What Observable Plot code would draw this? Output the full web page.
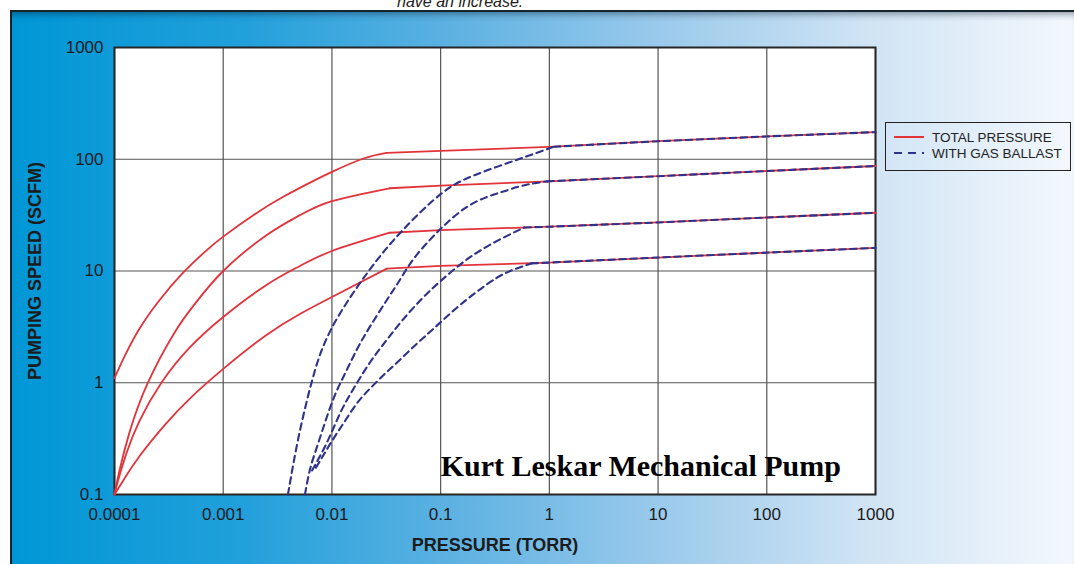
<!DOCTYPE html>
<html>
<head>
<meta charset="utf-8">
<script src="https://cdn.jsdelivr.net/npm/d3@7"></script>
<script src="https://cdn.jsdelivr.net/npm/@observablehq/plot@0.6"></script>
<style>
  html, body { margin: 0; padding: 0; width: 1074px; height: 564px; overflow: hidden; background: #fff; }
  #wrap { position: relative; width: 1074px; height: 564px; overflow: hidden; }
  #topnote { position: absolute; left: 397px; top: -7px; font: italic 16px "Liberation Sans", Arial, sans-serif; color: #222; white-space: nowrap; }
  #panel { position: absolute; left: 10px; top: 10px; right: 0; bottom: 0;
    border-left: 2px solid #16242c; border-top: 2px solid #16242c;
    box-shadow: inset 0 7px 7px -5px rgba(0,20,40,0.45);
    background: linear-gradient(to right, #0097d6 0%, #22a0db 22%, #5fb2e2 42%, #9dcbec 62%, #cfe3f4 80%, #f3f8fd 100%); }
  #chart { position: absolute; left: 0; top: 0; }
  #legend { position: absolute; left: 885px; top: 122px; width: 186px; height: 49px; border: 1px solid #222; box-sizing: border-box;
    font: 13.5px "Liberation Sans", Arial, sans-serif; color: #222; }
  #legend .row { position: absolute; left: 8px; height: 16px; display: flex; align-items: center; white-space: nowrap; }
  #legend svg { margin-right: 8px; }
</style>
</head>
<body>
<div id="wrap">
  <div id="topnote">have an increase.</div>
  <div id="panel"></div>
  <div id="chart"></div>
  <div id="legend"></div>
</div>
<script>
// ---- axis ticks ----
const xTicks = [1e-4, 1e-3, 1e-2, 0.1, 1, 10, 100, 1000];
const xTickLabels = ["0.0001", "0.001", "0.01", "0.1", "1", "10", "100", "1000"];
const yTicks = [0.1, 1, 10, 100, 1000];
const yTickLabels = ["0.1", "1", "10", "100", "1000"];
const xTitle = "PRESSURE (TORR)";
const yTitle = "PUMPING SPEED (SCFM)";
const seriesNames = ["TOTAL PRESSURE", "WITH GAS BALLAST"];
const annotationText = ["Kurt Leskar Mechanical Pump"];
const annotationAt = [0.1, 0.18];

// ---- total pressure curves [pressure (torr), speed (scfm)] ----
const total1 = [[0.0001,1.1],[0.000124,1.73],[0.000169,3.03],[0.000259,5.48],[0.00043,9.7],[0.00067,14.7],[0.001,20.3],[0.00192,31.9],
                [0.00363,46.6],[0.00684,64.4],[0.01,77.1],[0.0192,101],[0.032,114],
                [0.1,119],[1,129],[10,145],[100,160],[1000,175]];
const total2 = [[0.0001,0.1],[0.000111,0.163],[0.000137,0.356],[0.000201,0.98],[0.000355,2.79],[0.000542,5],[0.001,10],[0.0025,20.9],
                [0.00508,31.6],[0.01,42.2],[0.034,55],
                [0.1,58],[1,63.5],[10,70.5],[100,78.5],[1000,87]];
const total3 = [[0.0001,0.1],[0.000109,0.138],[0.000129,0.235],[0.000169,0.452],[0.00027,1],[0.000488,2.05],[0.001,3.88],[0.0025,7.5],
                [0.00508,11.1],[0.01,15.1],[0.034,22],
                [0.1,23.2],[1,24.9],[10,27.2],[100,30.1],[1000,33.2]];
const total4 = [[0.0001,0.1],[0.000124,0.14],[0.000169,0.219],[0.000288,0.416],[0.000488,0.715],[0.001,1.33],[0.0025,2.68],[0.00508,4.13],
                [0.01,5.86],[0.032,10.5],
                [0.1,11.1],[1,11.9],[10,13.2],[100,14.6],[1000,16.1]];
const kneeAt = [0.032, 0.034, 0.034, 0.032];

// ---- gas ballast curves [pressure (torr), speed (scfm)] ----
const ballast1 = [[0.00394,0.1],[0.00488,0.31],[0.00649,1],[0.0099,3.05],[0.0218,10],[0.0448,23.2],[0.1,48.7],[0.205,72],[0.52,100],
                  [1.1,129.5],[10,145],[100,160],[1000,175]];
const ballast2 = [[0.00565,0.1],[0.00628,0.167],[0.00745,0.285],[0.01,0.663],[0.0129,1.155],[0.0169,1.97],[0.0223,3.16],[0.032,5.5],
                  [0.0421,8.3],[0.0553,12.5],[0.0793,18.9],[0.1135,26.8],[0.1734,37.3],[0.264,45.8],[0.386,51.8],[0.59,58.6],[0.96,63.4],
                  [10,70.5],[100,78.5],[1000,87]];
const ballast3 = [[0.00656,0.164],[0.00899,0.291],[0.01183,0.528],[0.0156,0.866],[0.0223,1.51],[0.032,2.42],[0.0448,3.65],[0.0684,5.74],
                  [0.1,8.14],[0.149,11.3],[0.228,15.1],[0.371,19.7],[0.59,24.5],[1,24.9],[10,27.2],[100,30.1],[1000,33.2]];
const ballast4 = [[0.00713,0.174],[0.0102,0.31],[0.0129,0.44],[0.0169,0.65],[0.0223,0.883],[0.0294,1.155],[0.0378,1.45],[0.0603,2.23],
                  [0.0918,3.23],[0.14,4.67],[0.214,6.5],[0.327,8.66],[0.458,10.2],[0.684,11.7],[1,11.9],[10,13.2],[100,14.6],[1000,16.1]];
const joinAt = [1.1, 0.96, 0.59, 0.684];

const RED = "#e2333b";
const BLUE = "#2f3289";
const FONT = "'Liberation Sans', Arial, Helvetica, sans-serif";

// build tables: each curve split at its knee / junction into a curved and a straight part
function split(curves, cut) {
  const bend = [], straight = [];
  curves.forEach((c, i) => c.forEach(([x, y]) => {
    if (x <= cut[i]) bend.push({x, y, s: i});
    if (x >= cut[i]) straight.push({x, y, s: i});
  }));
  return [bend, straight];
}
const [rising, flat] = split([total1, total2, total3, total4], kneeAt);
const [bRising, bFlat] = split([ballast1, ballast2, ballast3, ballast4], joinAt);

const xLab = new Map(xTicks.map((t, i) => [t, xTickLabels[i]]));
const yLab = new Map(yTicks.map((t, i) => [t, yTickLabels[i]]));

const chart = Plot.plot({
  width: 1074,
  height: 564,
  marginLeft: 114,
  marginRight: 199,
  marginTop: 47,
  marginBottom: 70,
  style: {background: "transparent", fontFamily: FONT, fontSize: "17px", color: "#1b1b1b", overflow: "visible"},
  x: {type: "log", domain: [1e-4, 1e3]},
  y: {type: "log", domain: [0.1, 1000]},
  marks: [
    Plot.frame({fill: "white", stroke: null}),
    Plot.gridX(xTicks, {stroke: "#555", strokeOpacity: 1, strokeWidth: 1.2}),
    Plot.gridY(yTicks, {stroke: "#555", strokeOpacity: 1, strokeWidth: 1.2}),
    Plot.frame({stroke: "#262626", strokeWidth: 2}),
    Plot.axisX(xTicks, {tickSize: 0, tickPadding: 13, tickFormat: d => xLab.get(d), label: null, fontSize: 17}),
    Plot.axisY(yTicks, {tickSize: 0, tickPadding: 11, tickFormat: d => yLab.get(d), label: null, fontSize: 17}),
    Plot.text([xTitle], {text: d => d, frameAnchor: "bottom", dy: 51, textAnchor: "middle", lineAnchor: "middle",
      fontWeight: "bold", fontSize: 18, fill: "#1b1b1b"}),
    Plot.text([yTitle], {text: d => d, frameAnchor: "left", dx: -79, rotate: -90, textAnchor: "middle", lineAnchor: "middle",
      fontWeight: "bold", fontSize: 18, fill: "#1b1b1b"}),
    Plot.line(rising, {x: "x", y: "y", z: "s", curve: "natural", stroke: RED, strokeWidth: 1.8}),
    Plot.line(flat, {x: "x", y: "y", z: "s", curve: "linear", stroke: RED, strokeWidth: 1.8}),
    Plot.line(bRising, {x: "x", y: "y", z: "s", curve: "natural", stroke: BLUE, strokeWidth: 2.1, strokeDasharray: "6.5,4.5"}),
    Plot.line(bFlat, {x: "x", y: "y", z: "s", curve: "linear", stroke: BLUE, strokeWidth: 2.1, strokeDasharray: "6.5,4.5"}),
    Plot.text(annotationText, {x: () => annotationAt[0], y: () => annotationAt[1], text: d => d, textAnchor: "start", lineAnchor: "middle",
      fontFamily: "'Liberation Serif', 'Times New Roman', serif", fontWeight: "bold", fontSize: 30, fill: "#000"})
  ]
});
document.getElementById("chart").appendChild(chart);

// legend
const legend = document.getElementById("legend");
const sw = [
  `<svg width="30" height="6"><line x1="0" y1="3" x2="30" y2="3" stroke="${RED}" stroke-width="2"/></svg>`,
  `<svg width="30" height="6"><line x1="0" y1="3" x2="30" y2="3" stroke="${BLUE}" stroke-width="2" stroke-dasharray="8,6"/></svg>`
];
seriesNames.forEach((name, i) => {
  const row = document.createElement("div");
  row.className = "row";
  row.style.top = (i === 0 ? 6 : 22) + "px";
  row.innerHTML = sw[i] + `<span>${name}</span>`;
  legend.appendChild(row);
});
</script>
</body>
</html>
